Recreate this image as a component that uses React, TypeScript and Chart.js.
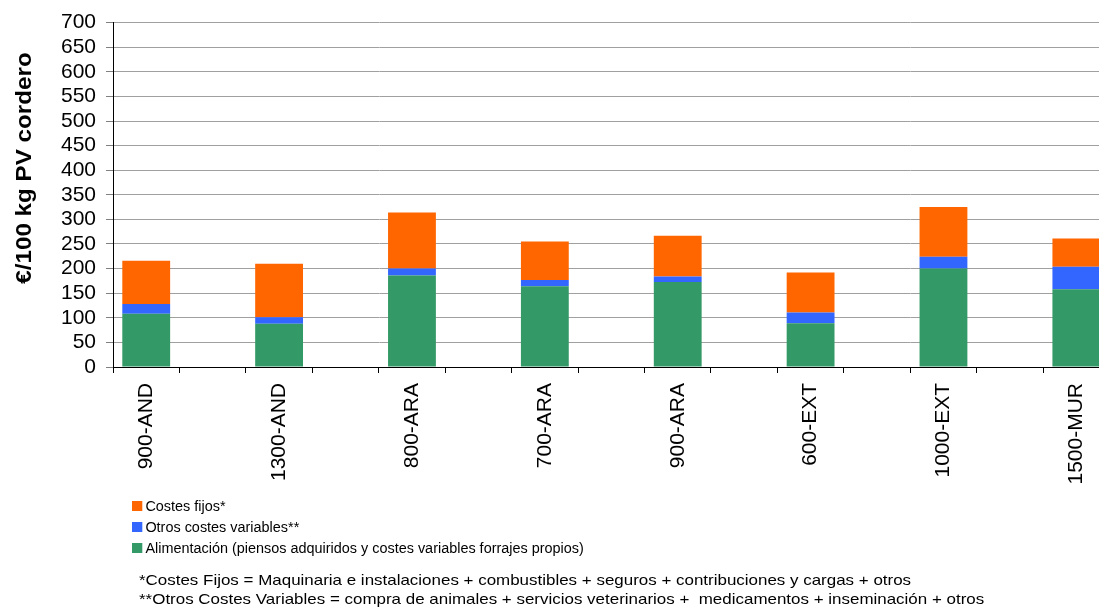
import React, { useEffect, useRef } from "react";
import { Chart, registerables } from "chart.js";

Chart.register(...registerables);

const categories = ["900-AND", "1300-AND", "800-ARA", "700-ARA", "900-ARA", "600-EXT", "1000-EXT", "1500-MUR"];
const alimentacion = [108, 88, 186, 164, 173, 89, 200, 158];
const otrosVariables = [20, 13, 14, 13, 11, 22, 24, 46];
const costesFijos = [88, 109, 114, 78, 83, 81, 101, 57];
const yTicks = [0, 50, 100, 150, 200, 250, 300, 350, 400, 450, 500, 550, 600, 650, 700];

const Y_TITLE = "€/100 kg PV cordero";
const LEGEND = [
  { label: "Costes fijos*", color: "#FF6600" },
  { label: "Otros costes variables**", color: "#3366FF" },
  { label: "Alimentación (piensos adquiridos y costes variables forrajes propios)", color: "#339966" },
];
const NOTE1 = "*Costes Fijos = Maquinaria e instalaciones + combustibles + seguros + contribuciones y cargas + otros";
const NOTE2 = "**Otros Costes Variables = compra de animales + servicios veterinarios +  medicamentos + inseminación + otros";

const FONT = '"Liberation Sans", Arial, Helvetica, sans-serif';

// Each category is followed by an empty slot (as in the original sheet)
const spread = (arr: (number | string)[], blank: any) => {
  const out: any[] = [];
  arr.forEach((v) => {
    out.push(v);
    out.push(blank);
  });
  return out;
};

const yTitlePlugin = {
  id: "yTitlePlugin",
  afterDraw(chart: any) {
    const ctx = chart.ctx;
    ctx.save();
    ctx.translate(25, 168);
    ctx.rotate(-Math.PI / 2);
    ctx.scale(1.1, 1);
    ctx.font = `bold 22px ${FONT}`;
    ctx.fillStyle = "#000";
    ctx.textAlign = "center";
    ctx.textBaseline = "middle";
    ctx.fillText(Y_TITLE, 0, 0);
    ctx.restore();
  },
};

export default function App() {
  const ref = useRef<HTMLCanvasElement>(null);

  useEffect(() => {
    if (!ref.current) return;
    const chart = new Chart(ref.current, {
      type: "bar",
      data: {
        labels: spread(categories, ""),
        datasets: [
          {
            label: LEGEND[2].label,
            data: spread(alimentacion, null),
            backgroundColor: LEGEND[2].color,
            stack: "s",
          },
          {
            label: LEGEND[1].label,
            data: spread(otrosVariables, null),
            backgroundColor: LEGEND[1].color,
            stack: "s",
          },
          {
            label: LEGEND[0].label,
            data: spread(costesFijos, null),
            backgroundColor: LEGEND[0].color,
            stack: "s",
          },
        ],
      },
      options: {
        responsive: false,
        animation: false,
        events: [],
        layout: { padding: { top: 21, right: 4, bottom: 0, left: 0 } },
        datasets: { bar: { categoryPercentage: 1, barPercentage: 0.72 } },
        plugins: { legend: { display: false }, tooltip: { enabled: false } },
        scales: {
          x: {
            stacked: true,
            offset: true,
            afterFit: (s: any) => {
              s.height = 240;
            },
            grid: {
              display: true,
              drawOnChartArea: false,
              drawTicks: true,
              tickLength: 6,
              color: "#000",
              offset: true,
            },
            border: { display: true, color: "#000", width: 1 },
            ticks: {
              autoSkip: false,
              minRotation: 90,
              maxRotation: 90,
              padding: 10,
              color: "#000",
              font: { family: FONT, size: 21 },
            },
          },
          y: {
            stacked: true,
            min: 0,
            max: 700,
            afterFit: (s: any) => {
              s.width = 113;
            },
            afterBuildTicks: (s: any) => {
              s.ticks = yTicks.map((v) => ({ value: v }));
            },
            grid: {
              color: "#a0a0a0",
              tickColor: "#808080",
              tickLength: 7,
              drawTicks: true,
            },
            border: { display: true, color: "#000", width: 1 },
            ticks: {
              autoSkip: false,
              padding: 10,
              color: "#000",
              font: { family: FONT, size: 21 },
            },
          },
        },
      },
      plugins: [yTitlePlugin],
    });
    return () => chart.destroy();
  }, []);

  return (
    <div
      style={{
        position: "absolute",
        left: 0,
        top: 0,
        width: 1099,
        height: 607,
        overflow: "hidden",
        background: "#fff",
        fontFamily: FONT,
        color: "#000",
      }}
    >
      <canvas ref={ref} width={1180} height={607} style={{ display: "block" }} />
      {LEGEND.map((item, i) => (
        <div
          key={item.label}
          style={{
            position: "absolute",
            left: 132,
            top: 498 + i * 21,
            height: 16,
            display: "flex",
            alignItems: "center",
            fontSize: 14,
            whiteSpace: "nowrap",
            transform: "scaleX(1.03)",
            transformOrigin: "left center",
          }}
        >
          <span style={{ display: "inline-block", width: 10, height: 10, background: item.color, marginRight: 3 }} />
          <span>{item.label}</span>
        </div>
      ))}
      <div
        style={{
          position: "absolute",
          left: 139,
          top: 569.5,
          fontSize: 15,
          lineHeight: "19.5px",
          whiteSpace: "pre",
          transform: "scaleX(1.13)",
          transformOrigin: "left top",
        }}
      >
        <div>{NOTE1}</div>
        <div>{NOTE2}</div>
      </div>
    </div>
  );
}
